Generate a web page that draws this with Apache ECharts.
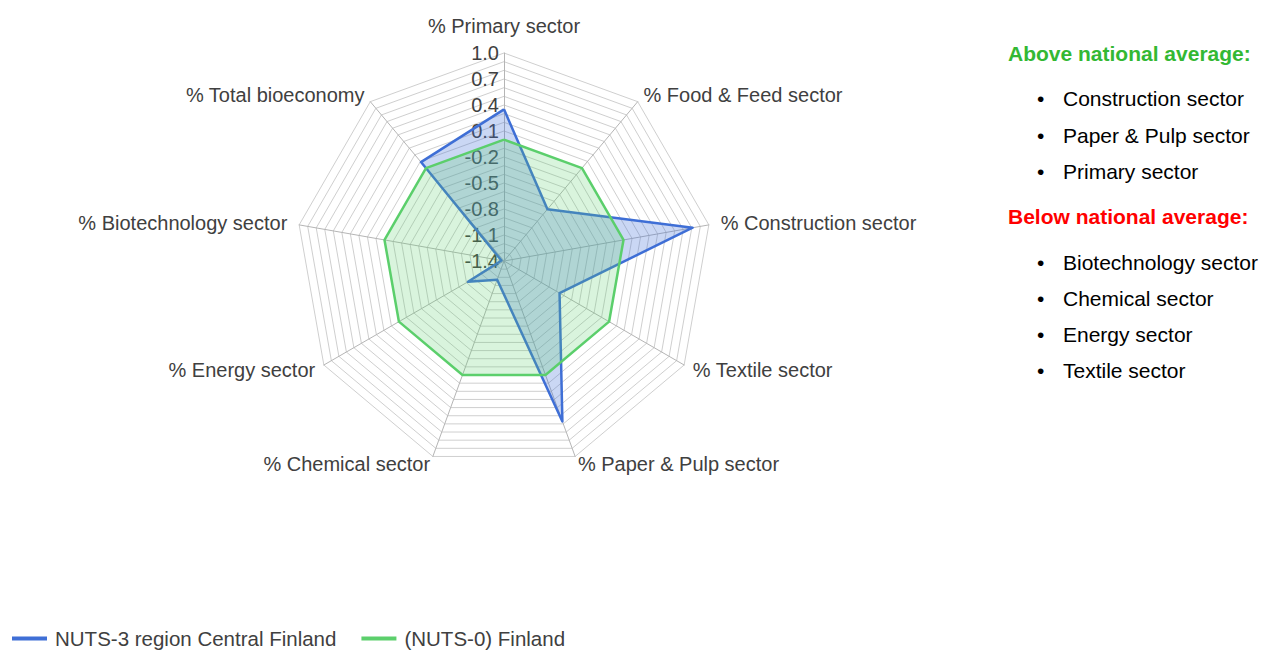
<!DOCTYPE html>
<html>
<head>
<meta charset="utf-8">
<script src="https://cdn.jsdelivr.net/npm/echarts@6/dist/echarts.min.js"></script>
<style>
  html, body { margin: 0; padding: 0; background: #fff; }
  #chart { width: 1262px; height: 650px; }
</style>
</head>
<body>
<div id="chart"></div>
<script>
// 指标(顺时针, 从顶部开始)
const sectors = [
  '% Primary sector',
  '% Food & Feed sector',
  '% Construction sector',
  '% Textile sector',
  '% Paper & Pulp sector',
  '% Chemical sector',
  '% Energy sector',
  '% Biotechnology sector',
  '% Total bioeconomy'
]
// 数值 (相对全国平均)
const centralFinland = [0.35, -0.62, 0.81, -0.66, 0.57, -1.17, -0.92, -1.37, 0.09]
const finland = [0, 0, 0, 0, 0, 0, 0, 0, 0]
const axisMin = -1.4
const axisMax = 1.0

// 右侧说明
const aboveList = ['Construction sector', 'Paper & Pulp sector', 'Primary sector']
const belowList = ['Biotechnology sector', 'Chemical sector', 'Energy sector', 'Textile sector']

const blue = '#3f6fd6'
const green = '#5ccf6c'
const labelFont = "'Liberation Sans', Arial, sans-serif"

// echarts雷达图是逆时针排列的, 这里把顺序倒过来(第一个保持在顶部)
const order = [0, 8, 7, 6, 5, 4, 3, 2, 1]
const pick = arr => order.map(i => arr[i])
// 每个指标名字离轴的距离
const nameGaps = [17, 9, 12, 10, 8, 8, 10, 12, 9]

var myChart = echarts.init(document.getElementById('chart'), null, { renderer: 'svg' })

// 右侧文字
const graphic = []
const addText = (text, x, y, opts) => {
  graphic.push({
    type: 'text',
    left: x,
    top: y,
    style: Object.assign({
      text: text,
      font: "21px 'Liberation Sans', Arial, sans-serif",
      fill: '#000'
    }, opts || {})
  })
}
const boldFont = "bold 21px 'Liberation Sans', Arial, sans-serif"
addText('Above national average:', 1008, 43, { font: boldFont, fill: '#33b833' })
aboveList.forEach((t, i) => {
  addText('•', 1037, 88 + i * 36.5)
  addText(t, 1063, 88 + i * 36.5)
})
addText('Below national average:', 1008, 206, { font: boldFont, fill: '#ff0000' })
belowList.forEach((t, i) => {
  addText('•', 1037, 252 + i * 36)
  addText(t, 1063, 252 + i * 36)
})

var option = {
  animation: false,
  legend: {
    left: 7,
    top: 623,
    icon: 'rect',
    itemWidth: 35,
    itemHeight: 4,
    itemGap: 25,
    data: ['NUTS-3 region Central Finland', '(NUTS-0) Finland'],
    textStyle: { fontFamily: labelFont, fontSize: 20.5, color: '#404040', padding: [0, 0, 0, 3] }
  },
  radar: {
    center: [504, 261],
    radius: 208,
    startAngle: 90,
    shape: 'polygon',
    splitNumber: 24,
    nameGap: 12,
    axisName: { fontFamily: labelFont, fontSize: 20, color: '#404040' },
    splitArea: { show: false },
    splitLine: { lineStyle: { color: '#cfcfcf', width: 1 } },
    axisLine: { lineStyle: { color: '#b5b5b5', width: 1 } },
    axisLabel: { show: false },
    indicator: order.map(i => {
      const ind = { name: sectors[i], min: axisMin, max: axisMax, nameGap: nameGaps[i] }
      if (i === 0) {
        ind.axisLabel = {
          show: true,
          fontFamily: labelFont,
          fontSize: 20,
          color: '#404040',
          margin: 5,
          formatter: (v, idx) => (idx % 3 === 0 ? v.toFixed(1) : '')
        }
      }
      return ind
    })
  },
  graphic: graphic,
  series: [{
    type: 'radar',
    symbol: 'none',
    data: [
      {
        name: 'NUTS-3 region Central Finland',
        value: pick(centralFinland),
        lineStyle: { color: blue, width: 2.5 },
        itemStyle: { color: blue },
        areaStyle: { color: blue, opacity: 0.28 }
      },
      {
        name: '(NUTS-0) Finland',
        value: pick(finland),
        lineStyle: { color: green, width: 2.5 },
        itemStyle: { color: green },
        areaStyle: { color: green, opacity: 0.23 }
      }
    ]
  }]
}

myChart.setOption(option)
</script>
</body>
</html>
